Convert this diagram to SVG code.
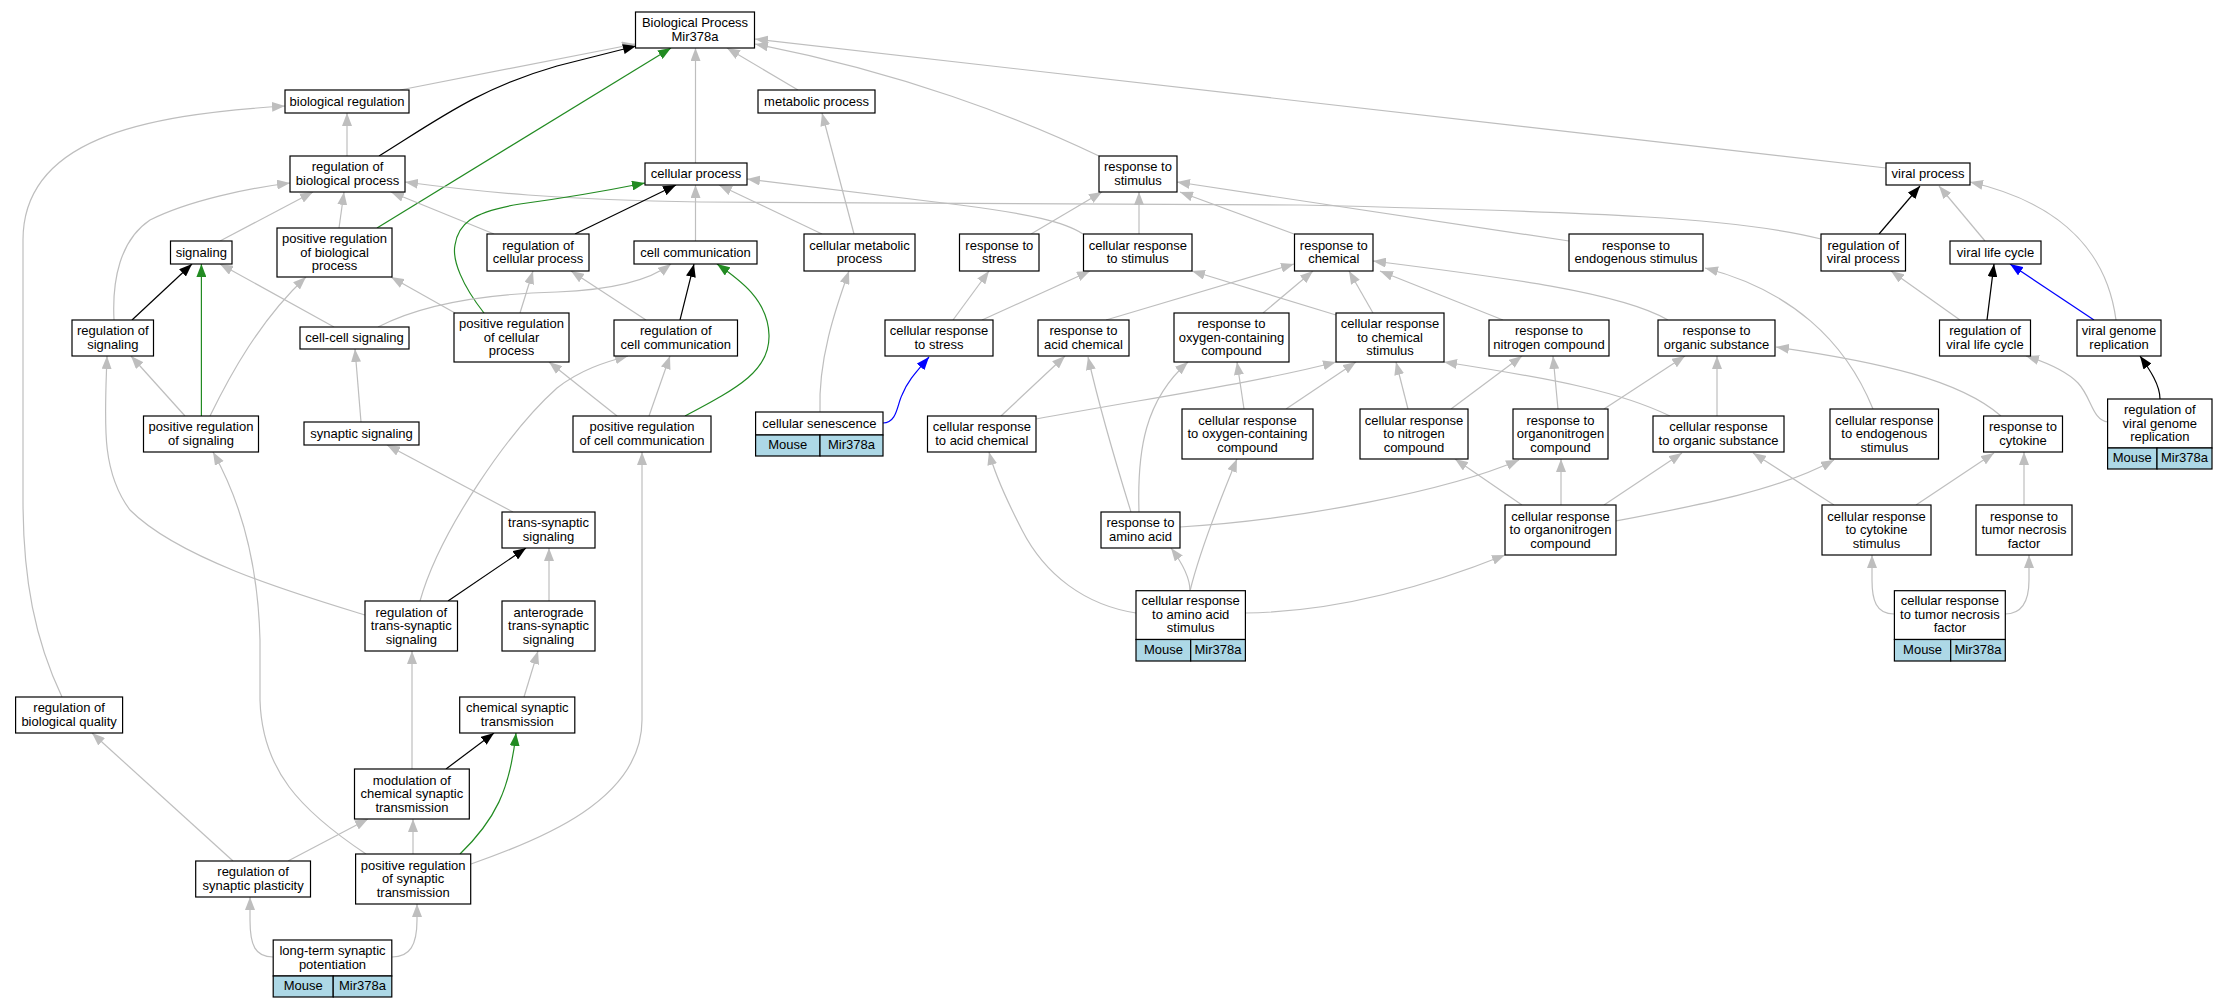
<svg xmlns="http://www.w3.org/2000/svg" width="2228" height="1008" viewBox="0 0 2228 1008">
<style>
.n rect{fill:#fff;stroke:#000;stroke-width:1.2}
.n rect.t{fill:#ADD8E6}
text{font-family:"Liberation Sans",Arial,sans-serif;font-size:13px;fill:#000;text-anchor:middle}
.e path{fill:none;stroke-width:1.2}
.e .g{stroke:#BEBEBE;marker-end:url(#ag)}
.e .k{stroke:#000;marker-end:url(#ak)}
.e .gr{stroke:#228B22;marker-end:url(#agr)}
.e .b{stroke:#0000FF;marker-end:url(#ab)}
</style>
<defs>
<marker id="ag" markerUnits="userSpaceOnUse" viewBox="0 0 13 10" refX="13" refY="5" markerWidth="13" markerHeight="10" orient="auto"><path d="M0,0L13,5L0,10z" fill="#BEBEBE"/></marker>
<marker id="ak" markerUnits="userSpaceOnUse" viewBox="0 0 13 10" refX="13" refY="5" markerWidth="13" markerHeight="10" orient="auto"><path d="M0,0L13,5L0,10z" fill="#000"/></marker>
<marker id="agr" markerUnits="userSpaceOnUse" viewBox="0 0 13 10" refX="13" refY="5" markerWidth="13" markerHeight="10" orient="auto"><path d="M0,0L13,5L0,10z" fill="#228B22"/></marker>
<marker id="ab" markerUnits="userSpaceOnUse" viewBox="0 0 13 10" refX="13" refY="5" markerWidth="13" markerHeight="10" orient="auto"><path d="M0,0L13,5L0,10z" fill="#0000FF"/></marker>
</defs>
<rect width="2228" height="1008" fill="#fff"/>
<g id="edges" class="e">
<path class="g" d="M400,90L635,44"/>
<path class="k" d="M379,156C440,118 480,88 557,66L636,46"/>
<path class="gr" d="M377,228L671,48"/>
<path class="g" d="M695.5,163L695.5,48"/>
<path class="g" d="M798,90L727,48"/>
<path class="g" d="M1099,156C1020,118 900,72 755,44"/>
<path class="g" d="M1886,168L755,39"/>
<path class="g" d="M347,156L347,113"/>
<path class="g" d="M62,697C35,640 23,580 23,500L23,240C23,140 140,115 285,106"/>
<path class="g" d="M220,241L313,192"/>
<path class="g" d="M114,320C112,280 120,240 150,220C190,200 250,188 290,183"/>
<path class="g" d="M339,228L344,192"/>
<path class="g" d="M494,234L391,192"/>
<path class="g" d="M1821,239C1740,218 1600,212 1300,205L700,202C560,200 480,192 405,182"/>
<path class="gr" d="M484,313C462,285 452,260 455,245C458,225 470,212 520,204C580,196 620,188 645,183"/>
<path class="k" d="M575,234L676,185"/>
<path class="g" d="M695.5,241L695.5,185"/>
<path class="g" d="M822,234L719,185"/>
<path class="g" d="M1083,234C1065,222 1030,214 960,205L747,179"/>
<path class="g" d="M854,234L822,113"/>
<path class="g" d="M1031,234L1102,192"/>
<path class="g" d="M1139,234L1139,192"/>
<path class="g" d="M1294,234L1180,192"/>
<path class="g" d="M1569,241L1177,182"/>
<path class="k" d="M1879,234L1920,186"/>
<path class="g" d="M1985,241L1939,186"/>
<path class="g" d="M2116,320C2108,260 2070,205 1970,182"/>
<path class="k" d="M1987,320L1994,264"/>
<path class="b" d="M2094,320L2010,264"/>
<path class="g" d="M1960,320L1891,271"/>
<path class="k" d="M132,320L192,264"/>
<path class="gr" d="M201.4,416L201.4,264"/>
<path class="g" d="M334,327L220,264"/>
<path class="g" d="M210,416C230,375 260,320 306,277"/>
<path class="g" d="M455,313L391,277"/>
<path class="g" d="M520,313L533,271"/>
<path class="g" d="M646,320L571,271"/>
<path class="k" d="M680,320L694,264"/>
<path class="gr" d="M685,416C740,387 770,370 769,335C768,300 740,280 717,264"/>
<path class="g" d="M378,327C420,305 480,294 557,292C610,290 650,280 671,264"/>
<path class="g" d="M361,422L355,349"/>
<path class="g" d="M185,416L131,356"/>
<path class="g" d="M365,615C300,595 180,560 130,510C100,470 105,420 107,356"/>
<path class="g" d="M617,416L549,362"/>
<path class="g" d="M649,416L670,356"/>
<path class="g" d="M420,601C440,530 510,430 557,388C580,370 605,362 628,356"/>
<path class="g" d="M366,854C300,810 262,770 260,700L260,640C258,560 240,500 213,452"/>
<path class="g" d="M471,864C540,840 642,800 642,720L642,452"/>
<path class="g" d="M513,512L387,445"/>
<path class="k" d="M448,601L526,548"/>
<path class="g" d="M549,601L549,548"/>
<path class="g" d="M412,769L412,651"/>
<path class="g" d="M524,697L538,651"/>
<path class="k" d="M446,769L494,733"/>
<path class="gr" d="M460,854C495,820 510,790 516,733"/>
<path class="g" d="M413,854L413,819"/>
<path class="g" d="M288,861L368,819"/>
<path class="g" d="M233,861L92,733"/>
<path class="g" d="M273,957C255,957 250,945 250,920L250,897"/>
<path class="g" d="M392,957C410,957 417,945 417,920L417,904"/>
<path class="g" d="M1106,320L1294,264"/>
<path class="g" d="M1263,313L1313,271"/>
<path class="g" d="M1373,313L1349,271"/>
<path class="g" d="M1503,320L1380,271"/>
<path class="g" d="M1668,320C1620,292 1500,277 1373,261"/>
<path class="g" d="M1336,315L1192,271"/>
<path class="g" d="M982,320L1090,271"/>
<path class="g" d="M953,320L989,271"/>
<path class="b" d="M883,423C897,423 897,405 902,395C908,380 918,370 929,357"/>
<path class="g" d="M820,412C818,360 835,310 849,271"/>
<path class="g" d="M1001,416L1065,356"/>
<path class="g" d="M1131,512C1118,470 1100,410 1088,357"/>
<path class="g" d="M1036,419C1150,398 1260,382 1336,362"/>
<path class="g" d="M1286,409L1356,362"/>
<path class="g" d="M1408,409L1396,362"/>
<path class="g" d="M1670,416C1620,392 1560,380 1444,362"/>
<path class="g" d="M1244,409L1237,362"/>
<path class="g" d="M1139,512C1137,450 1145,400 1188,362"/>
<path class="g" d="M1451,409L1522,356"/>
<path class="g" d="M1558,409L1553,356"/>
<path class="g" d="M1604,409L1685,356"/>
<path class="g" d="M1717,416L1717,356"/>
<path class="g" d="M2001,416C1960,380 1880,362 1776,347"/>
<path class="g" d="M1873,409C1845,340 1790,290 1705,268"/>
<path class="g" d="M1522,505L1455,459"/>
<path class="g" d="M1561,505L1561,459"/>
<path class="g" d="M1180,527C1300,520 1450,490 1519,460"/>
<path class="g" d="M1604,505L1682,453"/>
<path class="g" d="M1616,521C1700,505 1780,490 1834,460"/>
<path class="g" d="M1190,591C1190,575 1180,560 1171,548"/>
<path class="g" d="M1190,591C1200,550 1220,500 1237,459"/>
<path class="g" d="M1136,613C1085,605 1045,575 1022,530C1005,497 995,475 989,452"/>
<path class="g" d="M1245,613C1340,612 1430,585 1505,555"/>
<path class="g" d="M1834,505L1753,453"/>
<path class="g" d="M1916,505L1994,453"/>
<path class="g" d="M2024,505L2024,452"/>
<path class="g" d="M1894,614C1876,614 1872,600 1872,580L1872,555"/>
<path class="g" d="M2005,614C2023,614 2029,600 2029,580L2029,555"/>
<path class="k" d="M2160,399C2160,385 2150,370 2140,356"/>
<path class="g" d="M2108,422C2092,420 2092,398 2078,383C2065,370 2045,362 2026,356"/>
</g>
<g id="n-bp" class="n"><rect x="635.5" y="12" width="119" height="36"/><text x="695" y="27.3">Biological Process</text><text x="695" y="40.8">Mir378a</text></g>
<g id="n-bioreg" class="n"><rect x="285" y="90" width="124" height="23"/><text x="347" y="105.5">biological regulation</text></g>
<g id="n-metab" class="n"><rect x="758" y="90" width="117" height="23"/><text x="816.5" y="105.5">metabolic process</text></g>
<g id="n-rbp" class="n"><rect x="290" y="156" width="115" height="36"/><text x="347.5" y="171.3">regulation of</text><text x="347.5" y="184.8">biological process</text></g>
<g id="n-cp" class="n"><rect x="645" y="163" width="102" height="22"/><text x="696" y="178">cellular process</text></g>
<g id="n-rstim" class="n"><rect x="1099" y="156" width="78" height="36"/><text x="1138" y="171.3">response to</text><text x="1138" y="184.8">stimulus</text></g>
<g id="n-vp" class="n"><rect x="1886" y="163" width="84" height="22"/><text x="1928" y="178">viral process</text></g>
<g id="n-sig" class="n"><rect x="170.5" y="241" width="61.5" height="23"/><text x="201.3" y="256.5">signaling</text></g>
<g id="n-prbp" class="n"><rect x="277" y="228" width="115" height="49"/><text x="334.5" y="243">positive regulation</text><text x="334.5" y="256.5">of biological</text><text x="334.5" y="270">process</text></g>
<g id="n-rcp" class="n"><rect x="487" y="234" width="102" height="37"/><text x="538" y="249.8">regulation of</text><text x="538" y="263.3">cellular process</text></g>
<g id="n-cc" class="n"><rect x="634" y="241" width="123" height="23"/><text x="695.5" y="256.5">cell communication</text></g>
<g id="n-cmp" class="n"><rect x="804" y="234" width="111" height="37"/><text x="859.5" y="249.8">cellular metabolic</text><text x="859.5" y="263.3">process</text></g>
<g id="n-rstress" class="n"><rect x="959.5" y="234" width="79.5" height="37"/><text x="999.3" y="249.8">response to</text><text x="999.3" y="263.3">stress</text></g>
<g id="n-crs" class="n"><rect x="1083.5" y="234" width="108.5" height="37"/><text x="1137.8" y="249.8">cellular response</text><text x="1137.8" y="263.3">to stimulus</text></g>
<g id="n-rc" class="n"><rect x="1294.5" y="234" width="78.5" height="37"/><text x="1333.8" y="249.8">response to</text><text x="1333.8" y="263.3">chemical</text></g>
<g id="n-res" class="n"><rect x="1569" y="234" width="134" height="37"/><text x="1636" y="249.8">response to</text><text x="1636" y="263.3">endogenous stimulus</text></g>
<g id="n-rvp" class="n"><rect x="1821" y="234" width="84.5" height="37"/><text x="1863.3" y="249.8">regulation of</text><text x="1863.3" y="263.3">viral process</text></g>
<g id="n-vlc" class="n"><rect x="1950" y="241" width="91" height="23"/><text x="1995.5" y="256.5">viral life cycle</text></g>
<g id="n-rs" class="n"><rect x="72" y="320" width="81.5" height="36"/><text x="112.8" y="335.3">regulation of</text><text x="112.8" y="348.8">signaling</text></g>
<g id="n-ccs" class="n"><rect x="300" y="327" width="109" height="22"/><text x="354.5" y="342">cell-cell signaling</text></g>
<g id="n-prcp" class="n"><rect x="454" y="313" width="115" height="49"/><text x="511.5" y="328">positive regulation</text><text x="511.5" y="341.5">of cellular</text><text x="511.5" y="355">process</text></g>
<g id="n-rcc" class="n"><rect x="614" y="320" width="123.5" height="36"/><text x="675.8" y="335.3">regulation of</text><text x="675.8" y="348.8">cell communication</text></g>
<g id="n-crstress" class="n"><rect x="885" y="320" width="108" height="36"/><text x="939" y="335.3">cellular response</text><text x="939" y="348.8">to stress</text></g>
<g id="n-rac" class="n"><rect x="1038" y="320" width="91" height="36"/><text x="1083.5" y="335.3">response to</text><text x="1083.5" y="348.8">acid chemical</text></g>
<g id="n-rocc" class="n"><rect x="1174" y="313" width="115" height="49"/><text x="1231.5" y="328">response to</text><text x="1231.5" y="341.5">oxygen-containing</text><text x="1231.5" y="355">compound</text></g>
<g id="n-crcs" class="n"><rect x="1336" y="313" width="108" height="49"/><text x="1390" y="328">cellular response</text><text x="1390" y="341.5">to chemical</text><text x="1390" y="355">stimulus</text></g>
<g id="n-rnc" class="n"><rect x="1489" y="320" width="120" height="36"/><text x="1549" y="335.3">response to</text><text x="1549" y="348.8">nitrogen compound</text></g>
<g id="n-ros" class="n"><rect x="1658" y="320" width="117" height="36"/><text x="1716.5" y="335.3">response to</text><text x="1716.5" y="348.8">organic substance</text></g>
<g id="n-rvlc" class="n"><rect x="1939.5" y="320" width="91" height="36"/><text x="1985" y="335.3">regulation of</text><text x="1985" y="348.8">viral life cycle</text></g>
<g id="n-vgr" class="n"><rect x="2077" y="320" width="84" height="36"/><text x="2119" y="335.3">viral genome</text><text x="2119" y="348.8">replication</text></g>
<g id="n-prs" class="n"><rect x="143.5" y="416" width="115" height="36"/><text x="201" y="431.3">positive regulation</text><text x="201" y="444.8">of signaling</text></g>
<g id="n-ss" class="n"><rect x="304" y="422" width="115" height="23"/><text x="361.5" y="437.5">synaptic signaling</text></g>
<g id="n-prcc" class="n"><rect x="573" y="416" width="138" height="36"/><text x="642" y="431.3">positive regulation</text><text x="642" y="444.8">of cell communication</text></g>
<g id="n-csen" class="n"><rect x="755.6" y="412" width="127.4" height="23"/><text x="819.3" y="427.5">cellular senescence</text><rect class="t" x="755.6" y="435" width="64.4" height="21"/><rect class="t" x="820" y="435" width="63" height="21"/><text x="787.8" y="449">Mouse</text><text x="851.5" y="449">Mir378a</text></g>
<g id="n-crac" class="n"><rect x="927.5" y="416" width="108.5" height="36"/><text x="981.8" y="431.3">cellular response</text><text x="981.8" y="444.8">to acid chemical</text></g>
<g id="n-crocc" class="n"><rect x="1182" y="409" width="131" height="50"/><text x="1247.5" y="424.5">cellular response</text><text x="1247.5" y="438">to oxygen-containing</text><text x="1247.5" y="451.5">compound</text></g>
<g id="n-crnc" class="n"><rect x="1360" y="409" width="108" height="50"/><text x="1414" y="424.5">cellular response</text><text x="1414" y="438">to nitrogen</text><text x="1414" y="451.5">compound</text></g>
<g id="n-ron" class="n"><rect x="1513" y="409" width="95" height="50"/><text x="1560.5" y="424.5">response to</text><text x="1560.5" y="438">organonitrogen</text><text x="1560.5" y="451.5">compound</text></g>
<g id="n-cros" class="n"><rect x="1653" y="416" width="131" height="36"/><text x="1718.5" y="431.3">cellular response</text><text x="1718.5" y="444.8">to organic substance</text></g>
<g id="n-cres" class="n"><rect x="1830" y="409" width="108.5" height="50"/><text x="1884.3" y="424.5">cellular response</text><text x="1884.3" y="438">to endogenous</text><text x="1884.3" y="451.5">stimulus</text></g>
<g id="n-rcyt" class="n"><rect x="1983.6" y="416" width="78.9" height="36"/><text x="2023" y="431.3">response to</text><text x="2023" y="444.8">cytokine</text></g>
<g id="n-rvgr" class="n"><rect x="2107.6" y="399" width="104.4" height="49"/><text x="2159.8" y="414">regulation of</text><text x="2159.8" y="427.5">viral genome</text><text x="2159.8" y="441">replication</text><rect class="t" x="2107.6" y="448" width="49.4" height="21"/><rect class="t" x="2157" y="448" width="55" height="21"/><text x="2132.3" y="462">Mouse</text><text x="2184.5" y="462">Mir378a</text></g>
<g id="n-tss" class="n"><rect x="502" y="512" width="93" height="36"/><text x="548.5" y="527.3">trans-synaptic</text><text x="548.5" y="540.8">signaling</text></g>
<g id="n-raa" class="n"><rect x="1101" y="512" width="79" height="36"/><text x="1140.5" y="527.3">response to</text><text x="1140.5" y="540.8">amino acid</text></g>
<g id="n-cron" class="n"><rect x="1505" y="505" width="111" height="50"/><text x="1560.5" y="520.5">cellular response</text><text x="1560.5" y="534">to organonitrogen</text><text x="1560.5" y="547.5">compound</text></g>
<g id="n-crcys" class="n"><rect x="1822" y="505" width="109" height="50"/><text x="1876.5" y="520.5">cellular response</text><text x="1876.5" y="534">to cytokine</text><text x="1876.5" y="547.5">stimulus</text></g>
<g id="n-rtnf" class="n"><rect x="1976" y="505" width="96" height="50"/><text x="2024" y="520.5">response to</text><text x="2024" y="534">tumor necrosis</text><text x="2024" y="547.5">factor</text></g>
<g id="n-rtss" class="n"><rect x="365" y="601" width="92.5" height="50"/><text x="411.3" y="616.5">regulation of</text><text x="411.3" y="630">trans-synaptic</text><text x="411.3" y="643.5">signaling</text></g>
<g id="n-atss" class="n"><rect x="502" y="601" width="93" height="50"/><text x="548.5" y="616.5">anterograde</text><text x="548.5" y="630">trans-synaptic</text><text x="548.5" y="643.5">signaling</text></g>
<g id="n-craas" class="n"><rect x="1136" y="590.7" width="109.4" height="48.8"/><text x="1190.7" y="605.4">cellular response</text><text x="1190.7" y="618.9">to amino acid</text><text x="1190.7" y="632.4">stimulus</text><rect class="t" x="1136" y="639.5" width="54.7" height="21.5"/><rect class="t" x="1190.7" y="639.5" width="54.7" height="21.5"/><text x="1163.4" y="653.5">Mouse</text><text x="1218" y="653.5">Mir378a</text></g>
<g id="n-crtnf" class="n"><rect x="1894.4" y="590.7" width="110.9" height="48.8"/><text x="1949.9" y="605.4">cellular response</text><text x="1949.9" y="618.9">to tumor necrosis</text><text x="1949.9" y="632.4">factor</text><rect class="t" x="1894.4" y="639.5" width="56.3" height="21.5"/><rect class="t" x="1950.7" y="639.5" width="54.6" height="21.5"/><text x="1922.6" y="653.5">Mouse</text><text x="1978" y="653.5">Mir378a</text></g>
<g id="n-rbq" class="n"><rect x="15.6" y="697" width="107" height="36"/><text x="69.1" y="712.3">regulation of</text><text x="69.1" y="725.8">biological quality</text></g>
<g id="n-cst" class="n"><rect x="459.7" y="697" width="115.1" height="36"/><text x="517.3" y="712.3">chemical synaptic</text><text x="517.3" y="725.8">transmission</text></g>
<g id="n-mod" class="n"><rect x="354.5" y="769" width="114.8" height="50"/><text x="411.9" y="784.5">modulation of</text><text x="411.9" y="798">chemical synaptic</text><text x="411.9" y="811.5">transmission</text></g>
<g id="n-rsp" class="n"><rect x="195.7" y="861" width="114.8" height="36"/><text x="253.1" y="876.3">regulation of</text><text x="253.1" y="889.8">synaptic plasticity</text></g>
<g id="n-prst" class="n"><rect x="355.6" y="854" width="115.1" height="50"/><text x="413.2" y="869.5">positive regulation</text><text x="413.2" y="883">of synaptic</text><text x="413.2" y="896.5">transmission</text></g>
<g id="n-ltp" class="n"><rect x="273.2" y="940" width="118.6" height="36"/><text x="332.5" y="955.3">long-term synaptic</text><text x="332.5" y="968.8">potentiation</text><rect class="t" x="273.2" y="976" width="60" height="21"/><rect class="t" x="333.2" y="976" width="58.6" height="21"/><text x="303.2" y="990">Mouse</text><text x="362.5" y="990">Mir378a</text></g>
</svg>
